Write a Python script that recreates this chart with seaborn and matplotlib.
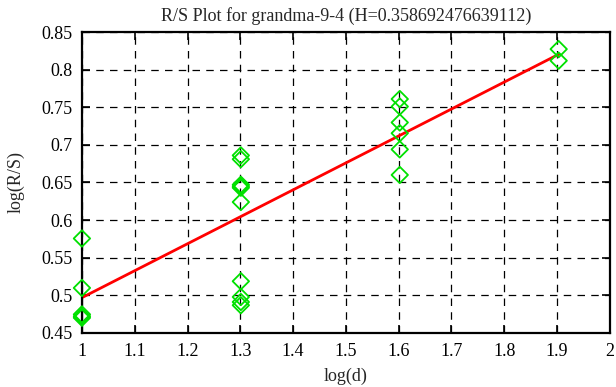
import matplotlib

matplotlib.use("Agg")
import matplotlib.pyplot as plt
import pandas as pd
import seaborn as sns

# observed log(R/S) values per log(d)
log_d = [1.0] * 5 + [1.30103] * 10 + [1.60206] * 6 + [1.90309] * 2
log_rs = [
    0.5755, 0.5097, 0.4745, 0.4720, 0.4700,
    0.6860, 0.6810, 0.6470, 0.6450, 0.6430, 0.6240, 0.5186, 0.4977, 0.4910, 0.4867,
    0.7610, 0.7510, 0.7298, 0.7155, 0.6940, 0.6600,
    0.8274, 0.8120,
]

# least squares fit endpoints (H = slope)
fit_x = [1.0, 1.90309]
fit_y = [0.4968, 0.8205]

title = "R/S Plot for grandma-9-4 (H=0.358692476639112)"
x_ticks = [1.0, 1.1, 1.2, 1.3, 1.4, 1.5, 1.6, 1.7, 1.8, 1.9, 2.0]
x_tick_labels = ["1", "1.1", "1.2", "1.3", "1.4", "1.5", "1.6", "1.7", "1.8", "1.9", "2"]
y_ticks = [0.45, 0.5, 0.55, 0.6, 0.65, 0.7, 0.75, 0.8, 0.85]
y_tick_labels = ["0.45", "0.5", "0.55", "0.6", "0.65", "0.7", "0.75", "0.8", "0.85"]

points = pd.DataFrame({"log_d": log_d, "log_rs": log_rs})
fit = pd.DataFrame({"log_d": fit_x, "log_rs": fit_y})

sns.set_theme(style="ticks")
plt.rcParams["font.family"] = ["Liberation Serif", "DejaVu Serif"]

figure = plt.figure(figsize=(6.16, 3.87), dpi=100)
axis = figure.add_axes([0.133, 0.140, 0.857, 0.777])

sns.lineplot(data=fit, x="log_d", y="log_rs", ax=axis, color="#ff0000",
             linewidth=2, zorder=2)
sns.scatterplot(data=points, x="log_d", y="log_rs", ax=axis, marker="D",
                s=70, facecolor="none", edgecolor="#00e000", linewidth=1.3,
                zorder=3)
for collection in axis.collections:
    collection.set_clip_on(False)

axis.set_xlim(1.0, 2.0)
axis.set_ylim(0.45, 0.85)
axis.set_xticks(x_ticks)
axis.set_xticklabels(x_tick_labels)
axis.set_yticks(y_ticks)
axis.set_yticklabels(y_tick_labels)
axis.grid(True, color="black", linestyle=(0, (6, 5)), linewidth=0.9)
axis.tick_params(direction="in", length=6, width=1.2, top=True, right=True,
                 labelsize=13, colors="black", pad=7)
for spine in axis.spines.values():
    spine.set_visible(True)
    spine.set_linewidth(1.6)
    spine.set_color("black")

axis.set_title(title, fontsize=13, pad=8)
axis.set_xlabel("log(d)", fontsize=13, labelpad=6)
axis.set_ylabel("log(R/S)", fontsize=13, labelpad=12)

figure.savefig("out.png", dpi=100)
plt.close(figure)
